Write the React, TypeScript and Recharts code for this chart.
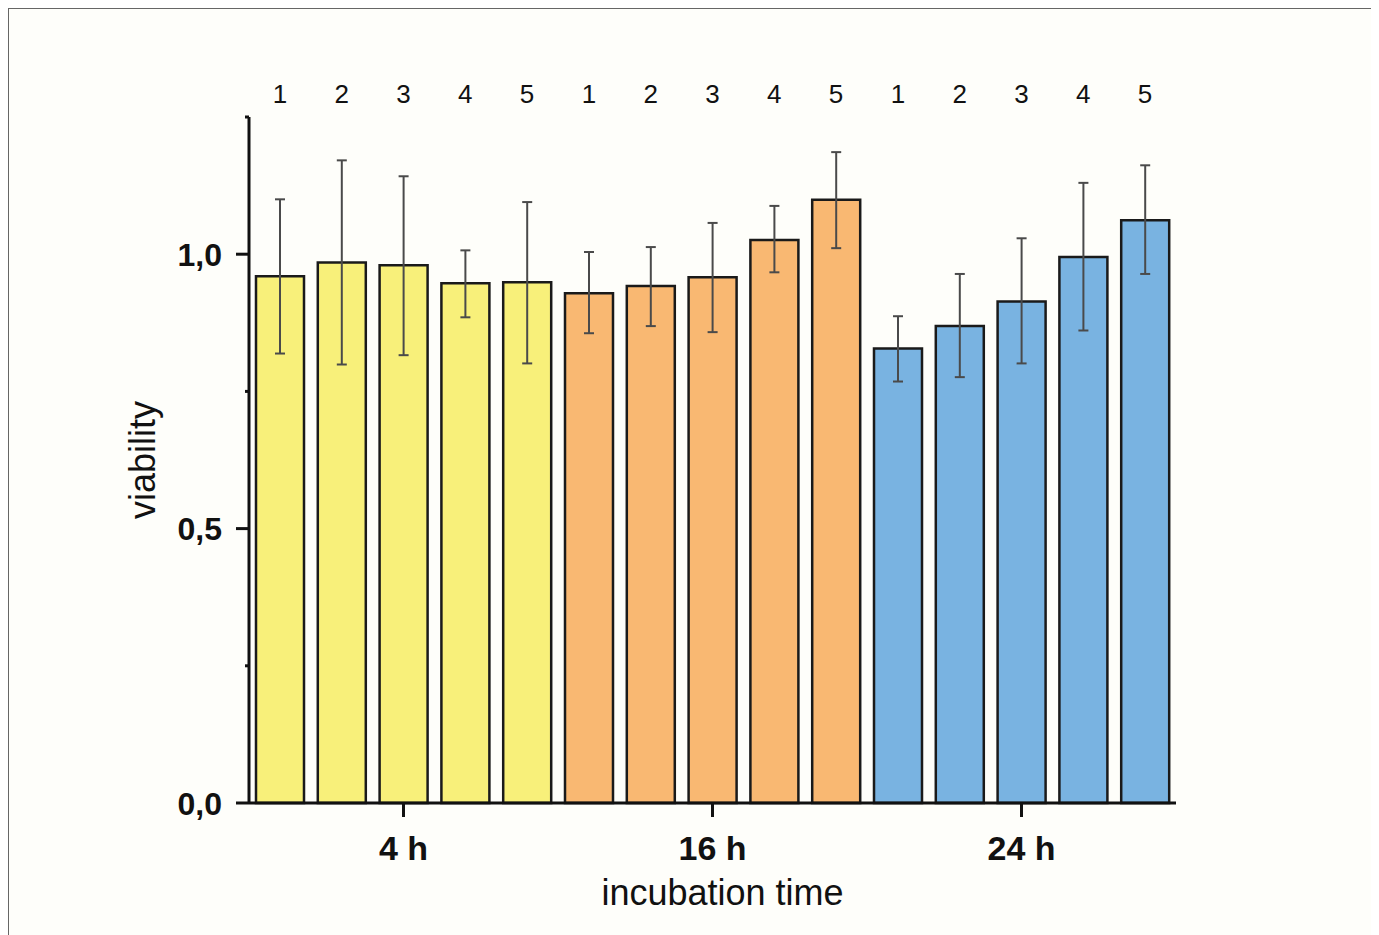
import { Bar, BarChart, Cell, ErrorBar, Label, XAxis, YAxis } from "recharts";

const groups = ["4 h", "16 h", "24 h"];
const reps = [1, 2, 3, 4, 5];
const groupColors = ["#f8f07a", "#f9b872", "#79b3e1"];

// mean viability and error bar ends, per incubation time
const mean4h = [0.96, 0.985, 0.98, 0.947, 0.949];
const upper4h = [1.1, 1.171, 1.142, 1.007, 1.095];
const lower4h = [0.819, 0.799, 0.816, 0.885, 0.801];

const mean16h = [0.929, 0.942, 0.958, 1.026, 1.099];
const upper16h = [1.004, 1.013, 1.057, 1.088, 1.186];
const lower16h = [0.856, 0.869, 0.858, 0.967, 1.011];

const mean24h = [0.828, 0.869, 0.914, 0.995, 1.062];
const upper24h = [0.887, 0.964, 1.029, 1.13, 1.162];
const lower24h = [0.768, 0.776, 0.801, 0.861, 0.964];

const yTicks = [0, 0.25, 0.5, 0.75, 1, 1.25];
const yLabelled = [0, 0.5, 1];

const means = [mean4h, mean16h, mean24h];
const uppers = [upper4h, upper16h, upper24h];
const lowers = [lower4h, lower16h, lower24h];

const data = groups.flatMap((g, gi) =>
  reps.map((r, ri) => ({
    key: `${g}-${r}`,
    group: g,
    groupIndex: gi,
    rep: r,
    value: means[gi][ri],
    err: [means[gi][ri] - lowers[gi][ri], uppers[gi][ri] - means[gi][ri]],
  }))
);

const font = "'Liberation Sans', Arial, sans-serif";

function YTick(props: any) {
  const { x, y, payload } = props;
  const major = yLabelled.includes(payload.value);
  return (
    <g>
      <line x1={x - (major ? 13 : 4)} y1={y} x2={x} y2={y} stroke="#111" strokeWidth={3} />
      {major && (
        <text
          x={x - 27}
          y={y}
          dy="0.36em"
          textAnchor="end"
          fontSize={32}
          fontWeight="bold"
          fill="#111"
          fontFamily={font}
        >
          {payload.value.toFixed(1).replace(".", ",")}
        </text>
      )}
    </g>
  );
}

export default function App() {
  return (
    <div
      style={{
        margin: "-1px 0 0 -1px",
        width: 1364,
        height: 940,
        border: "2px solid #666",
        borderBottom: "none",
        background: "#fefefa",
      }}
    >
      <BarChart
        width={1364}
        height={925}
        data={data}
        margin={{ top: 68, right: 197, left: 130, bottom: 21 }}
        style={{ fontFamily: font }}
      >
        <XAxis
          dataKey="key"
          ticks={groups.map((g) => `${g}-3`)}
          tickFormatter={(v: string) => v.split("-")[0]}
          height={110}
          tickSize={14}
          tickMargin={19}
          axisLine={{ stroke: "#111", strokeWidth: 3 }}
          tickLine={{ stroke: "#111", strokeWidth: 3 }}
          tick={{ fontSize: 34, fontWeight: "bold", fill: "#111" }}
          interval={0}
        >
          <Label
            content={({ viewBox }: any) => (
              <text
                x={viewBox.x + viewBox.width / 2 + 10}
                y={viewBox.y + viewBox.height - 8}
                textAnchor="middle"
                fontSize={36}
                fill="#111"
                fontFamily={font}
              >
                incubation time
              </text>
            )}
          />
        </XAxis>
        <XAxis
          xAxisId="top"
          orientation="top"
          dataKey="rep"
          height={40}
          axisLine={false}
          tickLine={false}
          tickSize={0}
          tickMargin={14}
          interval={0}
          tick={{ fontSize: 26, fill: "#111" }}
        />
        <YAxis
          domain={[0, 1.25]}
          ticks={yTicks}
          width={110}
          tickLine={false}
          tickSize={0}
          tickMargin={0}
          axisLine={{ stroke: "#111", strokeWidth: 3 }}
          tick={<YTick />}
        >
          <Label
            content={({ viewBox }: any) => {
              const x = viewBox.x + 16;
              const y = viewBox.y + viewBox.height / 2;
              return (
                <text
                  x={x}
                  y={y}
                  transform={`rotate(-90, ${x}, ${y})`}
                  textAnchor="middle"
                  fontSize={36}
                  fill="#111"
                  fontFamily={font}
                >
                  viability
                </text>
              );
            }}
          />
        </YAxis>
        <Bar dataKey="value" barSize={48} stroke="#1a1a1a" strokeWidth={2.5} isAnimationActive={false}>
          {data.map((d) => (
            <Cell key={d.key} fill={groupColors[d.groupIndex]} />
          ))}
          <ErrorBar dataKey="err" width={5} stroke="#4a4a4a" strokeWidth={2} isAnimationActive={false} />
        </Bar>
      </BarChart>
    </div>
  );
}
